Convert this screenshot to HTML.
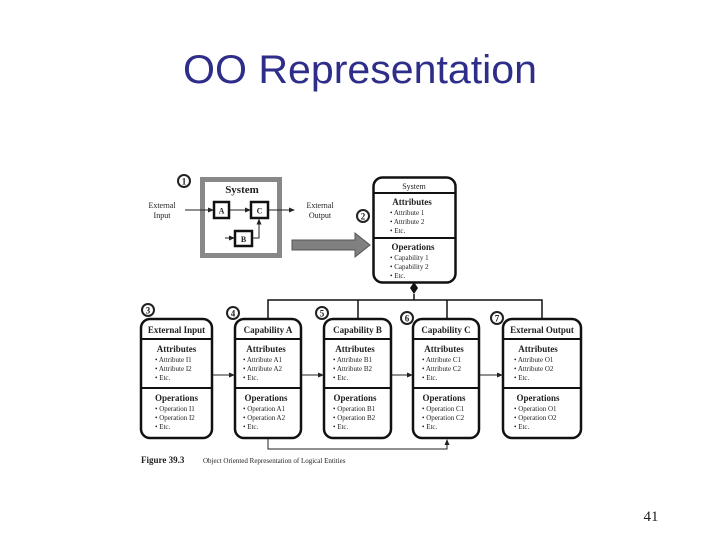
<!DOCTYPE html>
<html><head><meta charset="utf-8"><style>
html,body{margin:0;padding:0;background:#fff;}
svg{display:block;}
.t{font-family:"Liberation Serif",serif;fill:#222;}
</style></head><body>
<svg width="720" height="540" viewBox="0 0 720 540" xmlns="http://www.w3.org/2000/svg">
<defs><marker id="ah" markerWidth="6" markerHeight="6" refX="5" refY="3" orient="auto"><path d="M0,0.5 L6,3 L0,5.5 z" fill="#222"/></marker></defs>
<text x="360" y="83" text-anchor="middle" font-family="'Liberation Sans',sans-serif" font-size="40" fill="#2e2e8a" textLength="354" lengthAdjust="spacingAndGlyphs">OO Representation</text>

<circle cx="184" cy="181" r="6" fill="#fff" stroke="#222" stroke-width="2"/><text class="t" x="184" y="184.5" font-size="9" text-anchor="middle" font-weight="bold">1</text>
<rect x="202.5" y="179.5" width="77" height="76" fill="#fff" stroke="#888" stroke-width="5"/>
<text class="t" x="242" y="193" font-size="11" text-anchor="middle" font-weight="bold">System</text>
<text class="t" x="162" y="208" font-size="8" text-anchor="middle">External</text>
<text class="t" x="162" y="218" font-size="8" text-anchor="middle">Input</text>
<text class="t" x="320" y="208" font-size="8" text-anchor="middle">External</text>
<text class="t" x="320" y="218" font-size="8" text-anchor="middle">Output</text>
<line x1="185" y1="210" x2="213" y2="210" stroke="#222" stroke-width="1" marker-end="url(#ah)"/>
<rect x="214" y="202" width="15" height="16" fill="#fff" stroke="#111" stroke-width="2.5"/><text class="t" x="221.5" y="213.5" font-size="8" text-anchor="middle" font-weight="bold">A</text>
<line x1="230" y1="210" x2="250" y2="210" stroke="#222" stroke-width="1" marker-end="url(#ah)"/>
<rect x="251" y="202" width="17" height="16" fill="#fff" stroke="#111" stroke-width="2.5"/><text class="t" x="259.5" y="213.5" font-size="8" text-anchor="middle" font-weight="bold">C</text>
<line x1="269" y1="210" x2="294" y2="210" stroke="#222" stroke-width="1" marker-end="url(#ah)"/>
<line x1="225" y1="238" x2="234" y2="238" stroke="#222" stroke-width="1" marker-end="url(#ah)"/>
<rect x="235" y="231" width="17" height="15" fill="#fff" stroke="#111" stroke-width="2.5"/><text class="t" x="243.5" y="242" font-size="8" text-anchor="middle" font-weight="bold">B</text>
<polyline points="253,238 259,238 259,219.5" fill="none" stroke="#222" stroke-width="1" marker-end="url(#ah)"/>
<polygon points="292,240 355,240 355,233 370,245 355,257 355,250 292,250" fill="#808080" stroke="#555" stroke-width="1"/>
<circle cx="363" cy="216" r="6" fill="#fff" stroke="#222" stroke-width="2"/><text class="t" x="363" y="219.5" font-size="9" text-anchor="middle" font-weight="bold">2</text>

<rect x="373.5" y="177.5" width="82" height="105" rx="9" fill="#fff" stroke="#111" stroke-width="2.5"/>
<line x1="374" y1="193" x2="455" y2="193" stroke="#111" stroke-width="2"/>
<line x1="374" y1="238" x2="455" y2="238" stroke="#111" stroke-width="2"/>
<text class="t" x="414" y="189" font-size="8" text-anchor="middle">System</text>
<text class="t" x="412" y="205" font-size="9" text-anchor="middle" font-weight="bold">Attributes</text>
<text class="t" x="390" y="215" font-size="7">• Attribute 1</text>
<text class="t" x="390" y="224" font-size="7">• Attribute 2</text>
<text class="t" x="390" y="233" font-size="7">• Etc.</text>
<text class="t" x="413" y="250" font-size="9" text-anchor="middle" font-weight="bold">Operations</text>
<text class="t" x="390" y="260" font-size="7">• Capability 1</text>
<text class="t" x="390" y="269" font-size="7">• Capability 2</text>
<text class="t" x="390" y="278" font-size="7">• Etc.</text>
<polygon points="414,282 418,288 414,294 410,288" fill="#111"/>
<line x1="414" y1="294" x2="414" y2="300" stroke="#111" stroke-width="1.5"/>
<polyline points="268,319 268,300 542,300 542,319" fill="none" stroke="#111" stroke-width="1.5"/>
<line x1="358" y1="300" x2="358" y2="319" stroke="#111" stroke-width="1.5"/>
<line x1="447" y1="300" x2="447" y2="319" stroke="#111" stroke-width="1.5"/>

<g stroke="#111" stroke-width="2.5" fill="#fff">
<rect x="141" y="319" width="71" height="119" rx="9"/>
<rect x="235" y="319" width="66" height="119" rx="9"/>
<rect x="324" y="319" width="67" height="119" rx="9"/>
<rect x="413" y="319" width="66" height="119" rx="9"/>
<rect x="503" y="319" width="78" height="119" rx="9"/>
</g>
<g stroke="#111" stroke-width="2">
<line x1="141" y1="339" x2="212" y2="339"/><line x1="141" y1="388" x2="212" y2="388"/>
<line x1="235" y1="339" x2="301" y2="339"/><line x1="235" y1="388" x2="301" y2="388"/>
<line x1="324" y1="339" x2="391" y2="339"/><line x1="324" y1="388" x2="391" y2="388"/>
<line x1="413" y1="339" x2="479" y2="339"/><line x1="413" y1="388" x2="479" y2="388"/>
<line x1="503" y1="339" x2="581" y2="339"/><line x1="503" y1="388" x2="581" y2="388"/>
</g>
<g stroke="#222" stroke-width="1" fill="none">
<line x1="213" y1="375" x2="234" y2="375" marker-end="url(#ah)"/>
<line x1="302" y1="375" x2="323" y2="375" marker-end="url(#ah)"/>
<line x1="392" y1="375" x2="412" y2="375" marker-end="url(#ah)"/>
<line x1="480" y1="375" x2="502" y2="375" marker-end="url(#ah)"/>
<polyline points="268,439 268,449 447,449 447,440" marker-end="url(#ah)"/>
</g>
<g>
<circle cx="148" cy="310" r="6" fill="#fff" stroke="#222" stroke-width="2"/><text class="t" x="148" y="313.5" font-size="9" text-anchor="middle" font-weight="bold">3</text>
<circle cx="233" cy="313" r="6" fill="#fff" stroke="#222" stroke-width="2"/><text class="t" x="233" y="316.5" font-size="9" text-anchor="middle" font-weight="bold">4</text>
<circle cx="322" cy="313" r="6" fill="#fff" stroke="#222" stroke-width="2"/><text class="t" x="322" y="316.5" font-size="9" text-anchor="middle" font-weight="bold">5</text>
<circle cx="407" cy="318" r="6" fill="#fff" stroke="#222" stroke-width="2"/><text class="t" x="407" y="321.5" font-size="9" text-anchor="middle" font-weight="bold">6</text>
<circle cx="497" cy="318" r="6" fill="#fff" stroke="#222" stroke-width="2"/><text class="t" x="497" y="321.5" font-size="9" text-anchor="middle" font-weight="bold">7</text>
</g>

<g class="t" font-size="9" text-anchor="middle" font-weight="bold">
<text x="176.5" y="333">External Input</text>
<text x="268" y="333">Capability A</text>
<text x="357.5" y="333">Capability B</text>
<text x="446" y="333">Capability C</text>
<text x="542" y="333">External Output</text>
<text x="176.5" y="352">Attributes</text>
<text x="266" y="352">Attributes</text>
<text x="355" y="352">Attributes</text>
<text x="444" y="352">Attributes</text>
<text x="538" y="352">Attributes</text>
<text x="176.5" y="401">Operations</text>
<text x="266" y="401">Operations</text>
<text x="355" y="401">Operations</text>
<text x="444" y="401">Operations</text>
<text x="538" y="401">Operations</text>
</g>
<g class="t" font-size="7">
<text x="155" y="362">• Attribute I1</text><text x="155" y="371">• Attribute I2</text><text x="155" y="380">• Etc.</text>
<text x="155" y="411">• Operation I1</text><text x="155" y="420">• Operation I2</text><text x="155" y="429">• Etc.</text>
<text x="243" y="362">• Attribute A1</text><text x="243" y="371">• Attribute A2</text><text x="243" y="380">• Etc.</text>
<text x="243" y="411">• Operation A1</text><text x="243" y="420">• Operation A2</text><text x="243" y="429">• Etc.</text>
<text x="333" y="362">• Attribute B1</text><text x="333" y="371">• Attribute B2</text><text x="333" y="380">• Etc.</text>
<text x="333" y="411">• Operation B1</text><text x="333" y="420">• Operation B2</text><text x="333" y="429">• Etc.</text>
<text x="422" y="362">• Attribute C1</text><text x="422" y="371">• Attribute C2</text><text x="422" y="380">• Etc.</text>
<text x="422" y="411">• Operation C1</text><text x="422" y="420">• Operation C2</text><text x="422" y="429">• Etc.</text>
<text x="514" y="362">• Attribute O1</text><text x="514" y="371">• Attribute O2</text><text x="514" y="380">• Etc.</text>
<text x="514" y="411">• Operation O1</text><text x="514" y="420">• Operation O2</text><text x="514" y="429">• Etc.</text>
</g>
<text class="t" x="141" y="463" font-size="9" font-weight="bold">Figure 39.3</text>
<text class="t" x="203" y="463" font-size="7">Object Oriented Representation of Logical Entities</text>
<text class="t" x="651" y="521" font-size="15" text-anchor="middle">41</text>
</svg>
</body></html>
